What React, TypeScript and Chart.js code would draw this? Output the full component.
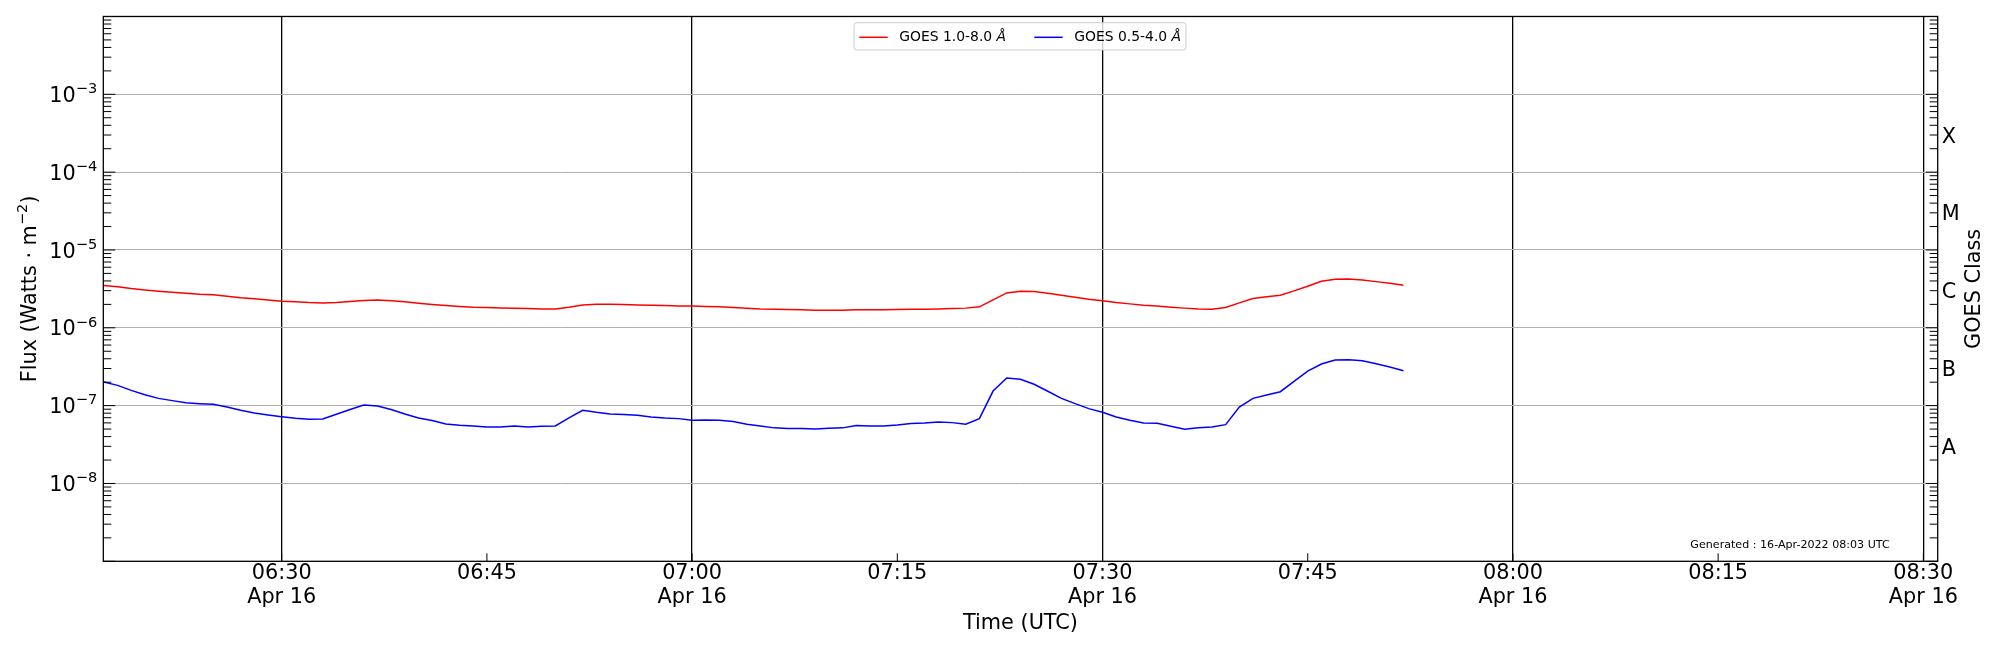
import React, { useEffect, useRef } from "react";
import { Chart, registerables } from "chart.js";

Chart.register(...registerables);

// GOES XRS one-minute samples, 06:17 .. 07:52 UTC on 16 Apr 2022
const startMinute = 17; // minutes after 06:00
const cadence = 1;

const xrsLong = [
  3.49e-6, 3.36e-6, 3.19e-6, 3.07e-6, 2.95e-6, 2.86e-6, 2.78e-6, 2.7e-6, 2.65e-6, 2.55e-6,
  2.43e-6, 2.36e-6, 2.27e-6, 2.2e-6, 2.16e-6, 2.11e-6, 2.09e-6, 2.11e-6, 2.18e-6, 2.24e-6,
  2.27e-6, 2.22e-6, 2.16e-6, 2.07e-6, 1.99e-6, 1.93e-6, 1.88e-6, 1.84e-6, 1.82e-6, 1.8e-6,
  1.79e-6, 1.77e-6, 1.75e-6, 1.75e-6, 1.84e-6, 1.97e-6, 2.01e-6, 2.01e-6, 1.99e-6, 1.97e-6,
  1.95e-6, 1.93e-6, 1.91e-6, 1.9e-6, 1.88e-6, 1.86e-6, 1.82e-6, 1.79e-6, 1.75e-6, 1.73e-6,
  1.72e-6, 1.7e-6, 1.68e-6, 1.68e-6, 1.68e-6, 1.7e-6, 1.7e-6, 1.7e-6, 1.72e-6, 1.73e-6,
  1.73e-6, 1.75e-6, 1.77e-6, 1.79e-6, 1.86e-6, 2.29e-6, 2.81e-6, 2.95e-6, 2.92e-6, 2.78e-6,
  2.62e-6, 2.47e-6, 2.33e-6, 2.22e-6, 2.11e-6, 2.03e-6, 1.95e-6, 1.9e-6, 1.84e-6, 1.79e-6,
  1.75e-6, 1.73e-6, 1.82e-6, 2.09e-6, 2.38e-6, 2.5e-6, 2.62e-6, 2.98e-6, 3.42e-6, 3.96e-6,
  4.2e-6, 4.25e-6, 4.12e-6, 3.92e-6, 3.74e-6, 3.52e-6,
];

const xrsShort = [
  2.01e-7, 1.82e-7, 1.57e-7, 1.38e-7, 1.24e-7, 1.16e-7, 1.09e-7, 1.06e-7, 1.04e-7, 9.6e-8,
  8.7e-8, 8.05e-8, 7.6e-8, 7.2e-8, 6.88e-8, 6.68e-8, 6.75e-8, 7.74e-8, 8.9e-8, 1.02e-7,
  9.9e-8, 8.9e-8, 7.8e-8, 6.95e-8, 6.43e-8, 5.82e-8, 5.6e-8, 5.49e-8, 5.32e-8, 5.32e-8,
  5.49e-8, 5.32e-8, 5.43e-8, 5.49e-8, 6.95e-8, 8.7e-8, 8.2e-8, 7.8e-8, 7.67e-8, 7.52e-8,
  7.16e-8, 6.95e-8, 6.81e-8, 6.48e-8, 6.55e-8, 6.48e-8, 6.24e-8, 5.77e-8, 5.49e-8, 5.18e-8,
  5.07e-8, 5.07e-8, 5.02e-8, 5.12e-8, 5.18e-8, 5.54e-8, 5.49e-8, 5.49e-8, 5.65e-8, 5.88e-8,
  6.0e-8, 6.18e-8, 6.05e-8, 5.77e-8, 6.81e-8, 1.54e-7, 2.26e-7, 2.18e-7, 1.88e-7, 1.53e-7,
  1.24e-7, 1.06e-7, 9.16e-8, 8.22e-8, 7.16e-8, 6.48e-8, 6.0e-8, 5.94e-8, 5.43e-8, 4.97e-8,
  5.18e-8, 5.32e-8, 5.7e-8, 9.6e-8, 1.24e-7, 1.37e-7, 1.51e-7, 2.05e-7, 2.78e-7, 3.42e-7,
  3.85e-7, 3.89e-7, 3.78e-7, 3.45e-7, 3.13e-7, 2.81e-7,
];

const xTicks = [30, 45, 60, 75, 90, 105, 120, 135, 150];
const fluxDecades = [1e-9, 1e-8, 1e-7, 1e-6, 1e-5, 1e-4, 1e-3, 1e-2];
const labelledExponents = [-3, -4, -5, -6, -7, -8];
const goesClasses = ["A", "B", "C", "M", "X"];
const classCentres = [10 ** -7.5, 10 ** -6.5, 10 ** -5.5, 10 ** -4.5, 10 ** -3.5];
const seriesLabels = ["GOES 1.0-8.0 ", "GOES 0.5-4.0 "];
const dateLabel = "Apr 16";
const generatedText = "Generated : 16-Apr-2022 08:03 UTC";

const FONT = "DejaVu Sans";
const BIG = 20.8;
const SUPSZ = 14.6;

const hhmm = (m: number) => {
  const h = 6 + Math.floor(m / 60);
  const mm = m % 60;
  return `${String(h).padStart(2, "0")}:${String(mm).padStart(2, "0")}`;
};

const toPoints = (vals: number[]) =>
  vals.map((v, i) => ({ x: startMinute + i * cadence, y: v }));

const framePlugin = {
  id: "frame",
  afterDraw(chart: any) {
    const { ctx, chartArea: a, scales } = chart;
    const y = scales.y;
    const x = scales.x;
    ctx.save();
    ctx.strokeStyle = "#000";
    ctx.lineWidth = 1;
    const seg = (x1: number, y1: number, x2: number, y2: number) => {
      ctx.beginPath();
      ctx.moveTo(x1, y1);
      ctx.lineTo(x2, y2);
      ctx.stroke();
    };
    // log ticks, inward on both sides
    for (let e = -9; e < -2; e++) {
      for (let m = 1; m <= 9; m++) {
        const py = y.getPixelForValue(m * 10 ** e);
        const len = m === 1 ? 12 : 8;
        seg(a.left, py, a.left + len, py);
        seg(a.right, py, a.right - len, py);
      }
    }
    // time ticks, inward at bottom
    xTicks.forEach((t) => {
      const px = x.getPixelForValue(t);
      seg(px, a.bottom, px, a.bottom - 8);
    });
    // spines
    ctx.lineWidth = 1.3;
    ctx.strokeRect(a.left, a.top, a.right - a.left, a.bottom - a.top);

    ctx.fillStyle = "#000";
    // flux tick labels, 10 with a raised exponent
    ctx.textBaseline = "alphabetic";
    ctx.textAlign = "left";
    labelledExponents.forEach((e) => {
      const py = y.getPixelForValue(10 ** e);
      const base = py + 7.6;
      ctx.font = `${SUPSZ}px '${FONT}'`;
      const exp = "\u2212" + String(-e);
      const ew = ctx.measureText(exp).width;
      ctx.font = `${BIG}px '${FONT}'`;
      const bw = ctx.measureText("10").width;
      const right = a.left - 6;
      ctx.fillText("10", right - ew - bw, base);
      ctx.font = `${SUPSZ}px '${FONT}'`;
      ctx.fillText(exp, right - ew, base - 8.8);
    });

    // left axis title, reading upwards
    ctx.save();
    ctx.translate(35.5, (a.top + a.bottom) / 2);
    ctx.rotate(-Math.PI / 2);
    const p1 = "Flux (Watts \u00B7 m";
    const p2 = "\u22122";
    const p3 = ")";
    ctx.font = `${BIG}px '${FONT}'`;
    const w1 = ctx.measureText(p1).width;
    const w3 = ctx.measureText(p3).width;
    ctx.font = `${SUPSZ}px '${FONT}'`;
    const w2 = ctx.measureText(p2).width;
    let cx = -(w1 + w2 + w3) / 2;
    ctx.font = `${BIG}px '${FONT}'`;
    ctx.fillText(p1, cx, 0);
    cx += w1;
    ctx.font = `${SUPSZ}px '${FONT}'`;
    ctx.fillText(p2, cx, -8.8);
    cx += w2;
    ctx.font = `${BIG}px '${FONT}'`;
    ctx.fillText(p3, cx, 0);
    ctx.restore();

    // right axis title, reading upwards
    ctx.save();
    ctx.translate(1980, (a.top + a.bottom) / 2);
    ctx.rotate(-Math.PI / 2);
    ctx.font = `${BIG}px '${FONT}'`;
    ctx.textAlign = "center";
    ctx.fillText("GOES Class", 0, 0);
    ctx.restore();

    // legend
    const lx = 854, ly = 22.7, lw = 332, lh = 27.3, r = 3;
    ctx.beginPath();
    ctx.moveTo(lx + r, ly);
    ctx.arcTo(lx + lw, ly, lx + lw, ly + lh, r);
    ctx.arcTo(lx + lw, ly + lh, lx, ly + lh, r);
    ctx.arcTo(lx, ly + lh, lx, ly, r);
    ctx.arcTo(lx, ly, lx + lw, ly, r);
    ctx.closePath();
    ctx.fillStyle = "rgba(255,255,255,0.8)";
    ctx.fill();
    ctx.strokeStyle = "#cccccc";
    ctx.lineWidth = 1;
    ctx.stroke();
    const entries = [
      { x: 859.3, color: "#ff0000", text: seriesLabels[0] },
      { x: 1034.3, color: "#0000ff", text: seriesLabels[1] },
    ];
    ctx.textBaseline = "middle";
    ctx.textAlign = "left";
    entries.forEach((en) => {
      ctx.strokeStyle = en.color;
      ctx.lineWidth = 1.5;
      seg(en.x, 37.3, en.x + 28.4, 37.3);
      ctx.fillStyle = "#000";
      ctx.font = `13.9px '${FONT}'`;
      ctx.fillText(en.text, en.x + 40, 37.5);
      const w = ctx.measureText(en.text).width;
      ctx.font = `italic 13.9px '${FONT}'`;
      ctx.fillText("\u00C5", en.x + 40 + w, 37.5);
    });

    // generated stamp
    ctx.font = `11.1px '${FONT}'`;
    ctx.fillStyle = "#000";
    ctx.textAlign = "center";
    ctx.fillText(generatedText, 1790, 545);

    ctx.restore();
  },
};

const GoesChart: React.FC = () => {
  const canvasRef = useRef<HTMLCanvasElement | null>(null);

  useEffect(() => {
    if (!canvasRef.current) return;
    Chart.defaults.font.family = FONT;
    Chart.defaults.color = "#000";

    const chart = new Chart(canvasRef.current, {
      type: "line",
      data: {
        datasets: [
          {
            label: seriesLabels[0],
            data: toPoints(xrsLong),
            borderColor: "#ff0000",
            borderWidth: 1.5,
            pointRadius: 0,
            yAxisID: "y",
          },
          {
            label: seriesLabels[1],
            data: toPoints(xrsShort),
            borderColor: "#0000ff",
            borderWidth: 1.5,
            pointRadius: 0,
            yAxisID: "y",
          },
        ],
      },
      options: {
        animation: false,
        responsive: false,
        devicePixelRatio: 1,
        layout: { padding: { top: 15.3, left: 0, right: 0, bottom: 0 } },
        plugins: { legend: { display: false }, tooltip: { enabled: false } },
        scales: {
          x: {
            type: "linear",
            min: 16.96,
            max: 151.05,
            afterBuildTicks: (s: any) => {
              s.ticks = xTicks.map((v) => ({ value: v }));
            },
            afterFit: (s: any) => {
              s.height = 88.7;
            },
            ticks: {
              autoSkip: false,
              maxRotation: 0,
              padding: 0.7,
              font: { size: BIG, lineHeight: 1.15 },
              color: "#000",
              callback: (v: any) => {
                const m = Number(v);
                return m % 30 === 0 ? [hhmm(m), dateLabel] : hhmm(m);
              },
            },
            grid: {
              drawTicks: false,
              lineWidth: 1.3,
              color: (c: any) =>
                c.tick && c.tick.value % 30 === 0 ? "#000" : "rgba(0,0,0,0)",
            },
            border: { display: false },
            title: {
              display: true,
              text: "Time (UTC)",
              font: { size: BIG, lineHeight: 1.15 },
              color: "#000",
              padding: { top: 0, bottom: 14 },
            },
          },
          y: {
            type: "logarithmic",
            position: "left",
            min: 1e-9,
            max: 1e-2,
            afterBuildTicks: (s: any) => {
              s.ticks = fluxDecades.map((v) => ({ value: v }));
            },
            afterFit: (s: any) => {
              s.width = 103.3;
            },
            ticks: { display: false },
            grid: { drawTicks: false, color: "#b0b0b0", lineWidth: 1 },
            border: { display: false },
          },
          y2: {
            type: "logarithmic",
            position: "right",
            min: 1e-9,
            max: 1e-2,
            afterBuildTicks: (s: any) => {
              s.ticks = classCentres.map((v) => ({ value: v }));
            },
            afterFit: (s: any) => {
              s.width = 62.3;
            },
            ticks: {
              padding: 4,
              labelOffset: 4,
              font: { size: BIG },
              color: "#000",
              callback: (_v: any, i: number) => goesClasses[i],
            },
            grid: { display: false, drawTicks: false },
            border: { display: false },
          },
        },
      },
      plugins: [framePlugin],
    });

    return () => {
      chart.destroy();
    };
  }, []);

  return (
    <div style={{ position: "absolute", left: 0, top: 0, width: 2000, height: 650, background: "#fff" }}>
      <canvas ref={canvasRef} width={2000} height={650}></canvas>
    </div>
  );
};

export default function App() {
  return <GoesChart />;
}
